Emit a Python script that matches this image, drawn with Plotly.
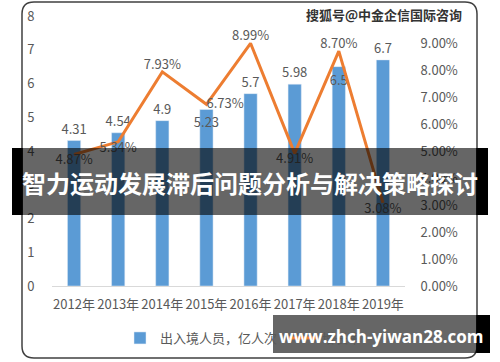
import plotly.graph_objects as go

years = ["2012年", "2013年", "2014年", "2015年", "2016年", "2017年", "2018年", "2019年"]
travelers = [4.31, 4.54, 4.9, 5.23, 5.7, 5.98, 6.5, 6.7]
growth = [4.87, 5.34, 7.93, 6.73, 8.99, 4.91, 8.70, 3.08]
bar_label_pos = ["outside", "outside", "outside", "inside", "outside", "outside", "inside", "outside"]
line_label_pos = ["bottom center", "bottom center", "top center", "middle right",
                  "top center", "bottom center", "top center", "bottom center"]
right_ticks = [0, 1, 2, 3, 4, 5, 6, 7, 8, 9]

W, H = 500, 362
L, R, T, B = 52, 405, 16, 286
FONT = "Noto Sans CJK SC, Noto Sans, sans-serif"
GREY = "#595959"


def px(x):
    return (x - L) / (R - L)


def py(y):
    return (B - y) / (B - T)


fig = go.Figure()
fig.add_trace(go.Bar(
    x=years, y=travelers, name="出入境人员，亿人次",
    marker=dict(color="#5B9BD5"),
    text=[str(v) for v in travelers], textposition=bar_label_pos,
    insidetextanchor="end", textangle=0, constraintext="none",
    textfont=dict(color=GREY, size=13), cliponaxis=False,
))
fig.add_trace(go.Scatter(
    x=years, y=growth, name="增长率", yaxis="y2", mode="lines+text",
    line=dict(color="#ED7D31", width=3),
    text=[f"{v:.2f}%" for v in growth], textposition=line_label_pos,
    textfont=dict(color=GREY, size=13), cliponaxis=False,
))

# rounded frame
r = 12
x0, x1, y0, y1 = 22, 477, 2, 358
path = (f"M {px(x0 + r):.5f},{py(y0):.5f} L {px(x1 - r):.5f},{py(y0):.5f} "
        f"Q {px(x1):.5f},{py(y0):.5f} {px(x1):.5f},{py(y0 + r):.5f} "
        f"L {px(x1):.5f},{py(y1 - r):.5f} Q {px(x1):.5f},{py(y1):.5f} {px(x1 - r):.5f},{py(y1):.5f} "
        f"L {px(x0 + r):.5f},{py(y1):.5f} Q {px(x0):.5f},{py(y1):.5f} {px(x0):.5f},{py(y1 - r):.5f} "
        f"L {px(x0):.5f},{py(y0 + r):.5f} Q {px(x0):.5f},{py(y0):.5f} {px(x0 + r):.5f},{py(y0):.5f} Z")

shapes = [
    dict(type="path", xref="paper", yref="paper", path=path,
         line=dict(color="#404040", width=1.5), layer="above"),
    # banner
    dict(type="rect", xref="paper", yref="paper", x0=px(12), x1=px(488), y0=py(148), y1=py(215),
         fillcolor="rgba(0,0,0,0.6)", line=dict(width=0), layer="above"),
    dict(type="rect", xref="paper", yref="paper", x0=px(12), x1=px(22.8), y0=py(148), y1=py(215),
         fillcolor="black", line=dict(width=0), layer="above"),
    dict(type="rect", xref="paper", yref="paper", x0=px(476.2), x1=px(488), y0=py(148), y1=py(215),
         fillcolor="black", line=dict(width=0), layer="above"),
    # bottom right box
    dict(type="rect", xref="paper", yref="paper", x0=px(273), x1=px(490), y0=py(315), y1=py(353),
         fillcolor="rgba(0,0,0,0.6)", line=dict(width=0), layer="above"),
    dict(type="rect", xref="paper", yref="paper", x0=px(476.2), x1=px(490), y0=py(315), y1=py(353),
         fillcolor="black", line=dict(width=0), layer="above"),
]

annotations = [
    dict(text="<b>智力运动发展滞后问题分析与解决策略探讨</b>", xref="paper", yref="paper",
         x=px(250), y=py(182), xanchor="center", yanchor="middle", showarrow=False,
         font=dict(family=FONT, size=24, color="white")),
    dict(text="<b>搜狐号@中金企信国际咨询</b>", xref="paper", yref="paper",
         x=px(384), y=py(14), xanchor="center", yanchor="middle", showarrow=False,
         font=dict(family=FONT, size=13, color="#333333")),
    dict(text="<b>www.zhch-yiwan28.com</b>", xref="paper", yref="paper",
         x=px(381), y=py(336), xanchor="center", yanchor="middle", showarrow=False,
         font=dict(family="Open Sans, sans-serif", size=17, color="white")),
]

fig.update_layout(
    width=W, height=H,
    margin=dict(l=L, r=W - R, t=T, b=H - B, autoexpand=False),
    paper_bgcolor="white", plot_bgcolor="white",
    font=dict(family=FONT, size=13, color=GREY),
    bargap=0.7,
    showlegend=True,
    legend=dict(orientation="h", x=px(120), xanchor="left", y=py(338), yanchor="middle",
                font=dict(size=13, color=GREY), bgcolor="rgba(0,0,0,0)"),
    xaxis=dict(showgrid=False, showline=True, linecolor="#d9d9d9", linewidth=1,
               ticks="outside", ticklen=6, tickcolor="rgba(0,0,0,0)", tickfont=dict(size=13)),
    yaxis=dict(range=[0, 8], dtick=1, showgrid=False, zeroline=False, showline=False,
               ticks="outside", ticklen=14, tickcolor="rgba(0,0,0,0)", tickfont=dict(size=13)),
    yaxis2=dict(range=[0, 10], overlaying="y", side="right", showgrid=False, zeroline=False,
                tickvals=right_ticks, ticktext=[f"{v:.2f}%" for v in right_ticks],
                ticks="outside", ticklen=12, tickcolor="rgba(0,0,0,0)", tickfont=dict(size=13)),
    shapes=shapes, annotations=annotations,
)

fig.write_html("out.html", config={"displayModeBar": False},
               post_script="document.body.style.margin='0';document.body.style.padding='0';")
